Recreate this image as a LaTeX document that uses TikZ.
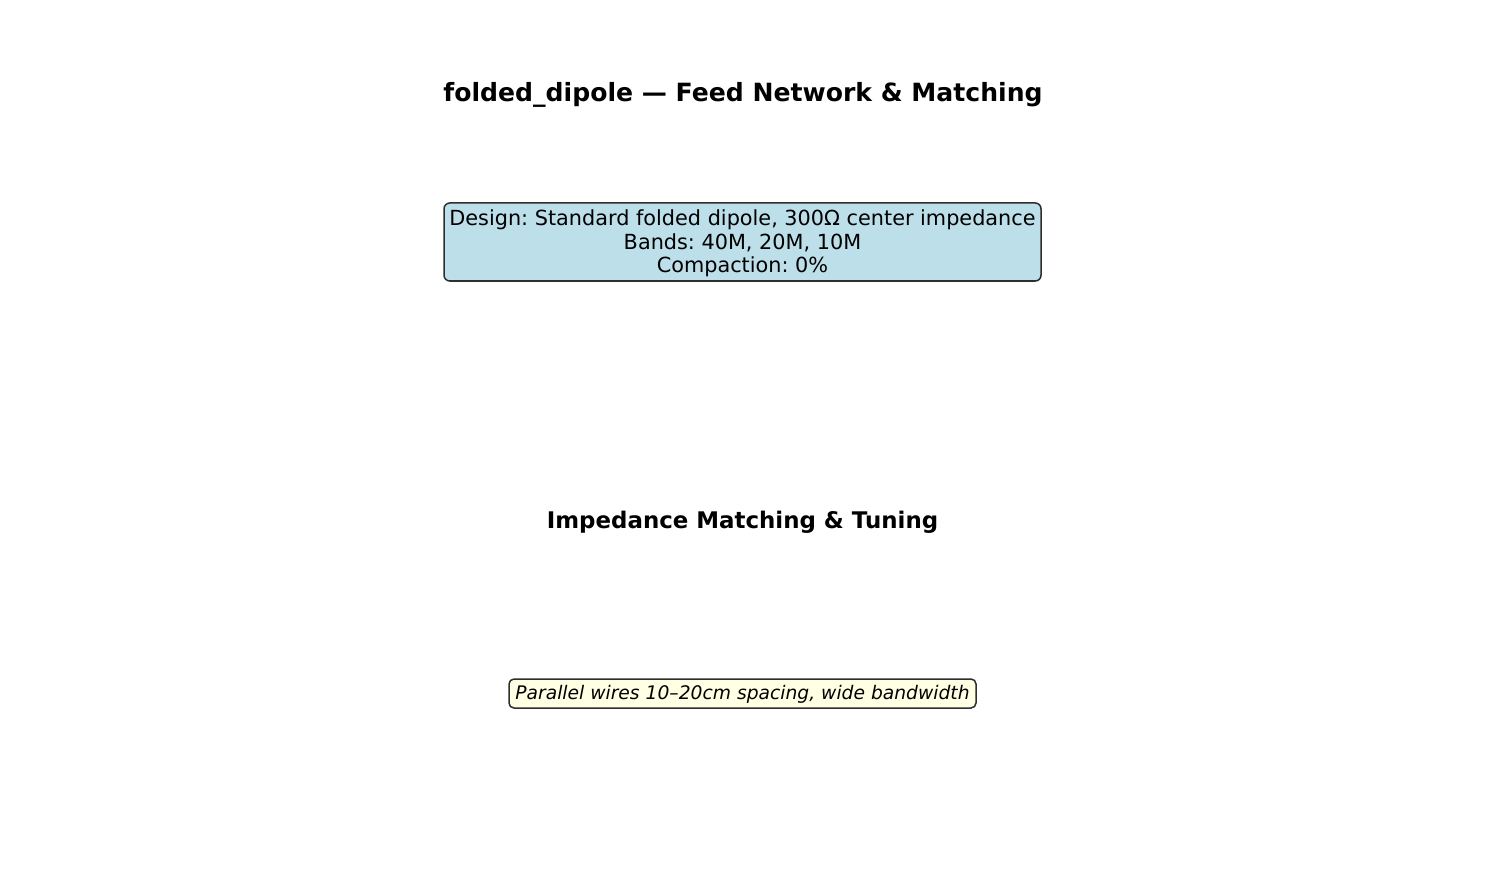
\documentclass[tikz,border=0pt]{standalone}
\usepackage{fontspec}
\setmainfont{DejaVu Sans}
\frenchspacing
\definecolor{bluefill}{HTML}{BDDFEA}
\definecolor{yelfill}{HTML}{FFFFE4}
\definecolor{edgec}{HTML}{2E2E2E}
\begin{document}
\begin{tikzpicture}[x=1pt,y=-1pt,
  ttl/.style={font=\fontsize{25.1}{30}\selectfont\bfseries, inner sep=0},
  subttl/.style={font=\fontsize{22.9}{27}\selectfont\bfseries, inner sep=0},
  infobox/.style={draw=edgec, line width=1.5pt, rounded corners=5.8pt, fill=bluefill,
     minimum width=597pt, minimum height=78pt, inner sep=0},
  infotext/.style={align=center, font=\fontsize{20.8}{23.5}\selectfont, inner sep=0},
  notebox/.style={draw=edgec, line width=1.5pt, rounded corners=5pt, fill=yelfill,
     minimum width=467pt, minimum height=29pt, inner sep=0},
  notetext/.style={font=\fontsize{18.7}{22}\selectfont\itshape, inner sep=0}]
\path[use as bounding box, fill=white] (0,0) rectangle (1485,885);
\node[ttl] (title) at (743,95) {folded\_dipole — Feed Network \& Matching};
\node[infobox] (design) at (742.5,242) {};
\node[infotext] (designtxt) at (742.5,243.5) {Design: Standard folded dipole, 300Ω center impedance\\Bands: 40M, 20M, 10M\\Compaction: 0\%};
\node[subttl] (match) at (742.5,522) {Impedance Matching \& Tuning};
\node[notebox] (note) at (742.5,693.5) {};
\node[notetext] (notetxt) at (742.5,694) {Parallel wires 10–20cm spacing, wide bandwidth};
\end{tikzpicture}
\end{document}
